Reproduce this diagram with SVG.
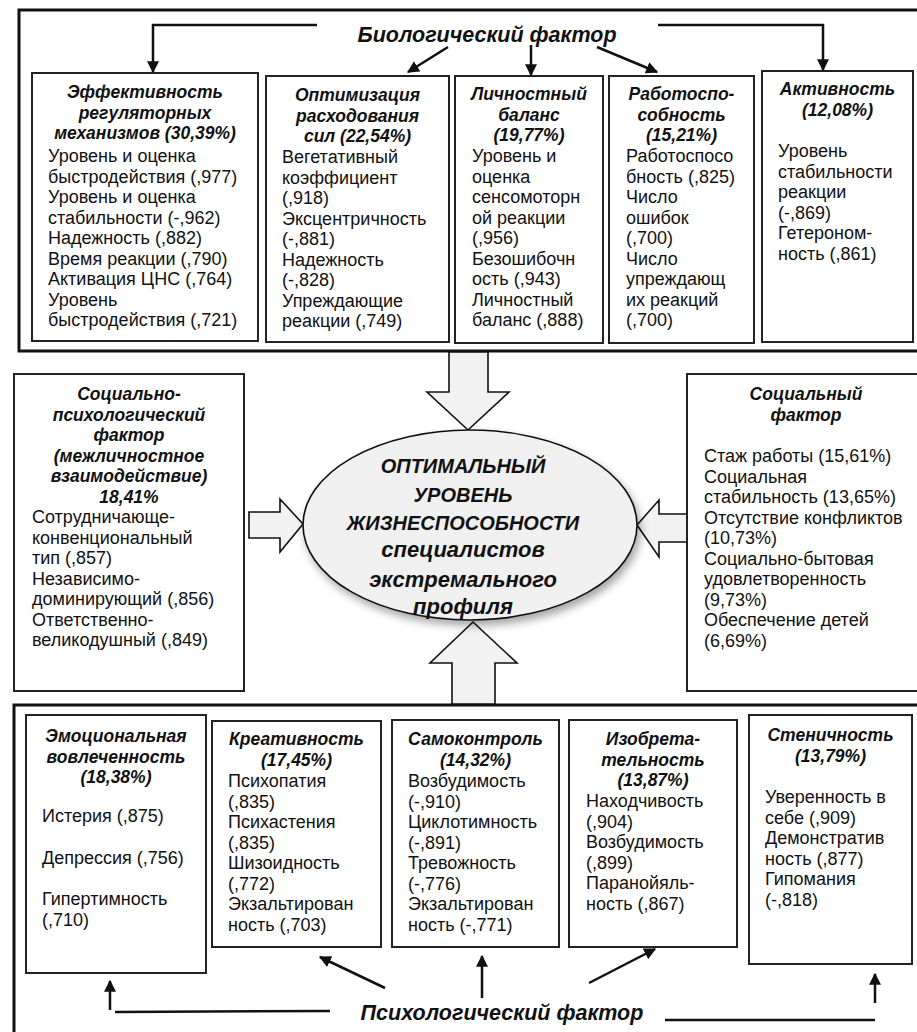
<svg xmlns="http://www.w3.org/2000/svg" width="917" height="1032" viewBox="0 0 917 1032">
<defs>
<style>
.bg{fill:#ffffff}
.outer{fill:none;stroke:#111;stroke-width:3}
.box{fill:#ffffff;stroke:#222;stroke-width:2}
.blk{fill:#f2f2f2;stroke:#111;stroke-width:1.6;stroke-linejoin:miter}
.ell{fill:#f0f0f0;stroke:#111;stroke-width:1.6}
.ln{fill:none;stroke:#111;stroke-width:2.5}
.t{font-family:"Liberation Sans",Arial,sans-serif;font-size:18px;fill:#111}
.h{font-family:"Liberation Sans",Arial,sans-serif;font-size:17.5px;font-weight:bold;font-style:italic;fill:#111;text-anchor:middle}
.title{font-family:"Liberation Sans",Arial,sans-serif;font-size:21.5px;font-weight:bold;font-style:italic;fill:#111;text-anchor:middle}
.c1{font-family:"Liberation Sans",Arial,sans-serif;font-size:20px;font-weight:bold;font-style:italic;fill:#111;text-anchor:middle}
.c2{font-family:"Liberation Sans",Arial,sans-serif;font-size:22px;font-weight:bold;font-style:italic;fill:#111;text-anchor:middle}
</style>
<marker id="ah" viewBox="0 0 10 10" refX="9" refY="5" markerWidth="12" markerHeight="12" markerUnits="userSpaceOnUse" orient="auto">
<path d="M0,0 L10,5 L0,10 z" fill="#111"/>
</marker>
<filter id="sh" x="-20%" y="-20%" width="140%" height="150%">
<feDropShadow dx="3" dy="5" stdDeviation="4" flood-color="#000" flood-opacity="0.35"/>
</filter>
</defs>
<rect class="bg" x="0" y="0" width="917" height="1032"/>

<g id="biological-group">
<rect class="outer" x="19" y="10" width="910" height="341"/>
<text class="title" x="487" y="42">Биологический фактор</text>
</g>

<g id="psychological-group">
<rect class="outer" x="14" y="705" width="915" height="340"/>
<text class="title" x="502" y="1020">Психологический фактор</text>
</g>

<g id="connectors">
<path class="ln" d="M317,25 H153 V72" marker-end="url(#ah)"/>
<line class="ln" x1="448" y1="47" x2="408" y2="72" marker-end="url(#ah)"/>
<line class="ln" x1="531" y1="45" x2="531" y2="75" marker-end="url(#ah)"/>
<line class="ln" x1="597" y1="47" x2="657" y2="72" marker-end="url(#ah)"/>
<path class="ln" d="M658,25 H823 V70" marker-end="url(#ah)"/>
<line class="ln" x1="115" y1="1012" x2="330" y2="1011"/>
<line class="ln" x1="110" y1="1010" x2="110" y2="981" marker-end="url(#ah)"/>
<line class="ln" x1="385" y1="988" x2="320" y2="957" marker-end="url(#ah)"/>
<line class="ln" x1="482" y1="998" x2="482" y2="956" marker-end="url(#ah)"/>
<line class="ln" x1="589" y1="983" x2="655" y2="949" marker-end="url(#ah)"/>
<line class="ln" x1="665" y1="1020" x2="875" y2="1020"/>
<line class="ln" x1="875" y1="1003" x2="875" y2="974" marker-end="url(#ah)"/>
<polygon class="blk" points="449,352 488,352 488,392 509,392 468,430 427,392 449,392"/>
<polygon class="blk" points="452,704 452,663 430,663 473,622 517,663 495,663 495,704"/>
<polygon class="blk" points="249,512 280,512 280,499 303,524 280,552 280,538 249,538"/>
<polygon class="blk" points="687,514 659,514 659,500 637,525 659,557 659,542 687,542"/>
</g>

<g id="center">
<ellipse class="ell" cx="470" cy="525" rx="167" ry="95" filter="url(#sh)"/>
<text class="c1" x="463" y="473">ОПТИМАЛЬНЫЙ</text>
<text class="c1" x="463" y="502">УРОВЕНЬ</text>
<text class="c1" x="463" y="530">ЖИЗНЕСПОСОБНОСТИ</text>
<text class="c2" x="463" y="557">специалистов</text>
<text class="c2" x="463" y="587">экстремального</text>
<text class="c2" x="463" y="614">профиля</text>
</g>

<g id="node-effectiveness">
<rect class="box" x="32" y="73" width="226" height="268"/>
<text class="h" x="145" y="98">Эффективность</text>
<text class="h" x="145" y="118.5">регуляторных</text>
<text class="h" x="145" y="139">механизмов (30,39%)</text>
<text class="t" x="48" y="162">Уровень и оценка</text>
<text class="t" x="48" y="182.5">быстродействия (,977)</text>
<text class="t" x="48" y="203">Уровень и оценка</text>
<text class="t" x="48" y="223.5">стабильности (-,962)</text>
<text class="t" x="48" y="244">Надежность (,882)</text>
<text class="t" x="48" y="264.5">Время реакции (,790)</text>
<text class="t" x="48" y="285">Активация ЦНС (,764)</text>
<text class="t" x="48" y="305.5">Уровень</text>
<text class="t" x="48" y="326">быстродействия (,721)</text>
</g>

<g id="node-optimization">
<rect class="box" x="266" y="76" width="183" height="266"/>
<text class="h" x="357.5" y="101">Оптимизация</text>
<text class="h" x="357.5" y="121.5">расходования</text>
<text class="h" x="357.5" y="142">сил (22,54%)</text>
<text class="t" x="282" y="163">Вегетативный</text>
<text class="t" x="282" y="183.5">коэффициент</text>
<text class="t" x="282" y="204">(,918)</text>
<text class="t" x="282" y="224.5">Эксцентричность</text>
<text class="t" x="282" y="245">(-,881)</text>
<text class="t" x="282" y="265.5">Надежность</text>
<text class="t" x="282" y="286">(-,828)</text>
<text class="t" x="282" y="306.5">Упреждающие</text>
<text class="t" x="282" y="327">реакции (,749)</text>
</g>

<g id="node-personal-balance">
<rect class="box" x="455" y="76" width="148" height="267"/>
<text class="h" x="529" y="100">Личностный</text>
<text class="h" x="529" y="120.5">баланс</text>
<text class="h" x="529" y="141">(19,77%)</text>
<text class="t" x="472" y="162">Уровень и</text>
<text class="t" x="472" y="182.5">оценка</text>
<text class="t" x="472" y="203">сенсомоторн</text>
<text class="t" x="472" y="223.5">ой реакции</text>
<text class="t" x="472" y="244">(,956)</text>
<text class="t" x="472" y="264.5">Безошибочн</text>
<text class="t" x="472" y="285">ость (,943)</text>
<text class="t" x="472" y="305.5">Личностный</text>
<text class="t" x="472" y="326">баланс (,888)</text>
</g>

<g id="node-work-capacity">
<rect class="box" x="609" y="76" width="145" height="267"/>
<text class="h" x="681.5" y="100">Работоспо-</text>
<text class="h" x="681.5" y="120.5">собность</text>
<text class="h" x="681.5" y="141">(15,21%)</text>
<text class="t" x="626" y="162">Работоспосо</text>
<text class="t" x="626" y="182.5">бность (,825)</text>
<text class="t" x="626" y="203">Число</text>
<text class="t" x="626" y="223.5">ошибок</text>
<text class="t" x="626" y="244">(,700)</text>
<text class="t" x="626" y="264.5">Число</text>
<text class="t" x="626" y="285">упреждающ</text>
<text class="t" x="626" y="305.5">их реакций</text>
<text class="t" x="626" y="326">(,700)</text>
</g>

<g id="node-activity">
<rect class="box" x="762" y="71" width="151" height="271"/>
<text class="h" x="837.5" y="95">Активность</text>
<text class="h" x="837.5" y="115.5">(12,08%)</text>
<text class="t" x="778" y="157">Уровень</text>
<text class="t" x="778" y="177.5">стабильности</text>
<text class="t" x="778" y="198">реакции</text>
<text class="t" x="778" y="218.5">(-,869)</text>
<text class="t" x="778" y="239">Гетероном-</text>
<text class="t" x="778" y="259.5">ность (,861)</text>
</g>

<g id="node-sociopsychological">
<rect class="box" x="14" y="374" width="230" height="317"/>
<text class="h" x="129" y="400">Социально-</text>
<text class="h" x="129" y="420.5">психологический</text>
<text class="h" x="129" y="441">фактор</text>
<text class="h" x="129" y="461.5">(межличностное</text>
<text class="h" x="129" y="482">взаимодействие)</text>
<text class="h" x="129" y="502.5">18,41%</text>
<text class="t" x="32" y="523">Сотрудничающе-</text>
<text class="t" x="32" y="543.5">конвенциональный</text>
<text class="t" x="32" y="564">тип (,857)</text>
<text class="t" x="32" y="584.5">Независимо-</text>
<text class="t" x="32" y="605">доминирующий (,856)</text>
<text class="t" x="32" y="625.5">Ответственно-</text>
<text class="t" x="32" y="646">великодушный (,849)</text>
</g>

<g id="node-social">
<rect class="box" x="687" y="374" width="240" height="317"/>
<text class="h" x="806" y="400">Социальный</text>
<text class="h" x="806" y="420.5">фактор</text>
<text class="t" x="704" y="462">Стаж работы (15,61%)</text>
<text class="t" x="704" y="482.5">Социальная</text>
<text class="t" x="704" y="503">стабильность (13,65%)</text>
<text class="t" x="704" y="523.5">Отсутствие конфликтов</text>
<text class="t" x="704" y="544">(10,73%)</text>
<text class="t" x="704" y="564.5">Социально-бытовая</text>
<text class="t" x="704" y="585">удовлетворенность</text>
<text class="t" x="704" y="605.5">(9,73%)</text>
<text class="t" x="704" y="626">Обеспечение детей</text>
<text class="t" x="704" y="646.5">(6,69%)</text>
</g>

<g id="node-emotional">
<rect class="box" x="26" y="715" width="180" height="258"/>
<text class="h" x="116" y="742">Эмоциональная</text>
<text class="h" x="116" y="762.5">вовлеченность</text>
<text class="h" x="116" y="783">(18,38%)</text>
<text class="t" x="42" y="822">Истерия (,875)</text>
<text class="t" x="42" y="864">Депрессия (,756)</text>
<text class="t" x="42" y="905">Гипертимность</text>
<text class="t" x="42" y="925.5">(,710)</text>
</g>

<g id="node-creativity">
<rect class="box" x="212" y="721" width="169" height="226"/>
<text class="h" x="296.5" y="745">Креативность</text>
<text class="h" x="296.5" y="765.5">(17,45%)</text>
<text class="t" x="228" y="787">Психопатия</text>
<text class="t" x="228" y="807.5">(,835)</text>
<text class="t" x="228" y="828">Психастения</text>
<text class="t" x="228" y="848.5">(,835)</text>
<text class="t" x="228" y="869">Шизоидность</text>
<text class="t" x="228" y="889.5">(,772)</text>
<text class="t" x="228" y="910">Экзальтирован</text>
<text class="t" x="228" y="930.5">ность (,703)</text>
</g>

<g id="node-self-control">
<rect class="box" x="392" y="720" width="167" height="227"/>
<text class="h" x="475.5" y="745">Самоконтроль</text>
<text class="h" x="475.5" y="765.5">(14,32%)</text>
<text class="t" x="408" y="787">Возбудимость</text>
<text class="t" x="408" y="807.5">(-,910)</text>
<text class="t" x="408" y="828">Циклотимность</text>
<text class="t" x="408" y="848.5">(-,891)</text>
<text class="t" x="408" y="869">Тревожность</text>
<text class="t" x="408" y="889.5">(-,776)</text>
<text class="t" x="408" y="910">Экзальтирован</text>
<text class="t" x="408" y="930.5">ность (-,771)</text>
</g>

<g id="node-inventiveness">
<rect class="box" x="569" y="720" width="168" height="227"/>
<text class="h" x="653" y="745">Изобрета-</text>
<text class="h" x="653" y="765.5">тельность</text>
<text class="h" x="653" y="786">(13,87%)</text>
<text class="t" x="586" y="807">Находчивость</text>
<text class="t" x="586" y="827.5">(,904)</text>
<text class="t" x="586" y="848">Возбудимость</text>
<text class="t" x="586" y="868.5">(,899)</text>
<text class="t" x="586" y="889">Паранойяль-</text>
<text class="t" x="586" y="909.5">ность (,867)</text>
</g>

<g id="node-sthenicity">
<rect class="box" x="749" y="715" width="163" height="249"/>
<text class="h" x="830.5" y="741">Стеничность</text>
<text class="h" x="830.5" y="761.5">(13,79%)</text>
<text class="t" x="765" y="803">Уверенность в</text>
<text class="t" x="765" y="823.5">себе (,909)</text>
<text class="t" x="765" y="844">Демонстратив</text>
<text class="t" x="765" y="864.5">ность (,877)</text>
<text class="t" x="765" y="885">Гипомания</text>
<text class="t" x="765" y="905.5">(-,818)</text>
</g>
</svg>
